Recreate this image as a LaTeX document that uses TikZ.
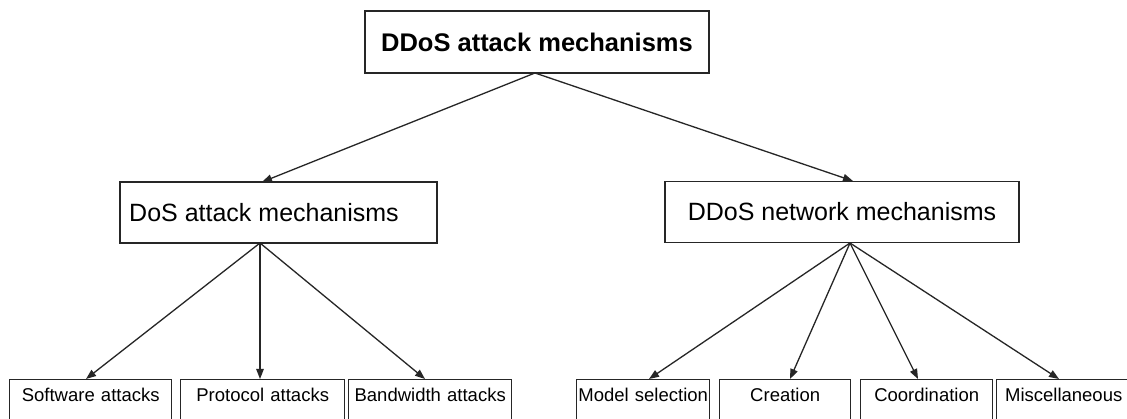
\documentclass[tikz,border=0pt]{standalone}
\usepackage{fontspec}
\setmainfont{Liberation Sans}
\usetikzlibrary{arrows.meta}
\begin{document}
\begin{tikzpicture}[x=1pt,y=-1pt,
  box/.style={draw=black!85,line width=1.4pt,fill=white,rectangle,inner sep=0pt},
  headbox/.style={box,minimum height=62pt,font=\bfseries\fontsize{25.5}{28}\selectfont},
  midbox/.style={box,minimum height=61pt,font=\fontsize{25}{28}\selectfont},
  leaf/.style={box,anchor=north west,text depth=60pt,text height=22pt,align=center,
    font=\fontsize{18.5}{21}\selectfont},
  link/.style={draw=black!85,line width=1.3pt,-{Triangle[length=10pt,width=7.5pt]}}]
\clip (0,0) rectangle (1127,419);
\fill[white] (0,0) rectangle (1127,419);

% root and the two branches
\node[headbox,minimum width=344pt] (root) at (537,42) {DDoS attack mechanisms};
% the label sits left of the box centre, over the connector ports
\node[midbox,minimum width=317pt] (dos) at (278.5,212.5) {\hbox{DoS attack mechanisms\kern29pt}};
\node[midbox,minimum width=354pt] (net) at (842,212) {DDoS network mechanisms};

% leaves
\node[leaf,text width=162pt] (sw) at (9,379) {Software attacks};
\node[leaf,text width=164pt] (proto) at (180,379) {Protocol attacks};
\node[leaf,text width=163pt] (bw) at (348,379) {Bandwidth attacks};
\node[leaf,text width=133pt] (model) at (576,379) {Model selection};
\node[leaf,text width=131pt] (create) at (719,379) {Creation};
\node[leaf,text width=132pt] (coord) at (860,379) {Coordination};
\node[leaf,text width=134pt] (misc) at (996,379) {Miscellaneous};

% connector ports
\coordinate (rootOut) at (535,73);
\coordinate (dosIn) at (262,182);
\coordinate (dosOut) at (260,243);
\coordinate (netIn) at (853,181);
\coordinate (netOut) at (850,243);
\coordinate (swIn) at (86,379);
\coordinate (protoIn) at (260,379);
\coordinate (bwIn) at (425,379);
\coordinate (modelIn) at (649,379);
\coordinate (createIn) at (790,379);
\coordinate (coordIn) at (918,379);
\coordinate (miscIn) at (1059,379);

\draw[link] (rootOut) -- (dosIn);
\draw[link] (rootOut) -- (netIn);
\draw[link] (dosOut) -- (swIn);
\draw[link] (dosOut) -- (protoIn);
\draw[link] (dosOut) -- (bwIn);
\draw[link] (netOut) -- (modelIn);
\draw[link] (netOut) -- (createIn);
\draw[link] (netOut) -- (coordIn);
\draw[link] (netOut) -- (miscIn);
\end{tikzpicture}
\end{document}
